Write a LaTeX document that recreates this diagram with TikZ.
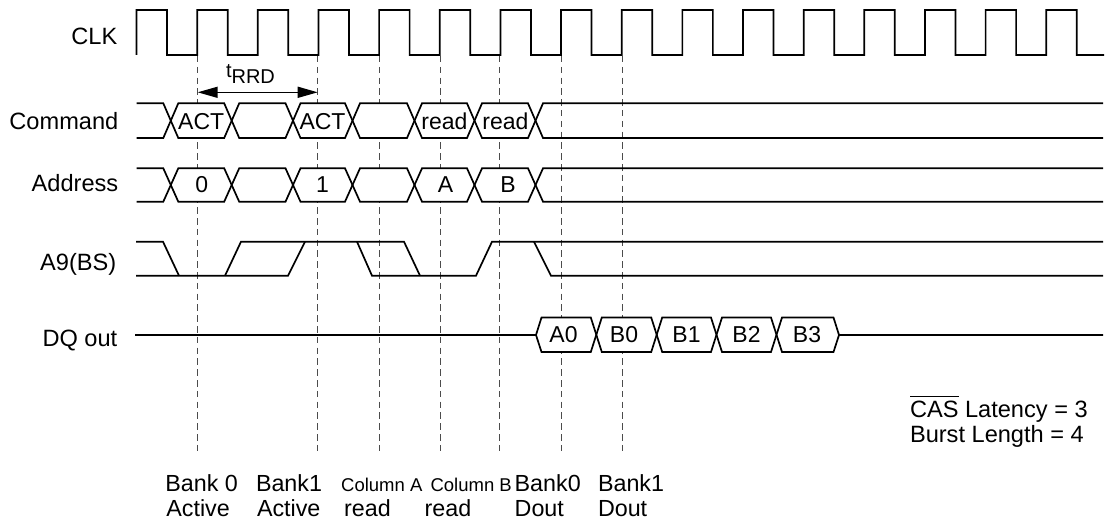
\documentclass[tikz,border=0pt]{standalone}
\usepackage{fontspec}
\setmainfont{Liberation Sans}
\usetikzlibrary{arrows.meta}
\newcommand\ovl[1]{\setbox0\hbox{#1}\rlap{\raisebox{20pt}{\rule{\wd0}{1.3pt}}}\box0\relax}
\newcommand\hexfill[5]{% left point, right point, top, bottom, half-width
  \fill[white] (#1,{(#3+#4)/2}) -- (#1+#5,#3) -- (#2-#5,#3) -- (#2,{(#3+#4)/2}) -- (#2-#5,#4) -- (#1+#5,#4) -- cycle;}
\newcommand\busrow[2]{%
\foreach \a/\b in {170.8/231.7,231.7/293,293/352.5,352.5/414.5,414.5/474.5,474.5/535.5} {\hexfill{\a}{\b}{#1}{#2}{7.5}}
\draw[sigline] (136.7,#1) -- (163.3,#1) -- (178.3,#2) -- (224.2,#2) -- (239.2,#1) -- (285.5,#1) -- (300.5,#2) -- (345,#2) -- (360,#1) -- (407,#1) -- (422,#2) -- (467,#2) -- (482,#1) -- (528,#1) -- (543,#2) -- (1103,#2);
\draw[sigline] (136.7,#2) -- (163.3,#2) -- (178.3,#1) -- (224.2,#1) -- (239.2,#2) -- (285.5,#2) -- (300.5,#1) -- (345,#1) -- (360,#2) -- (407,#2) -- (422,#1) -- (467,#1) -- (482,#2) -- (528,#2) -- (543,#1) -- (1103,#1);}
\begin{document}
\begin{tikzpicture}[x=1pt,y=-1pt,
  sigline/.style={line width=1.7pt, line join=miter},
  guideline/.style={line width=0.9pt, black!70, dash pattern=on 6.5pt off 4.3pt},
  rowlabel/.style={font=\fontsize{23.6}{28}\selectfont, anchor=base east, inner sep=0pt},
  buslabel/.style={font=\fontsize{23}{28}\selectfont, anchor=base, inner sep=0pt},
  notelabel/.style={font=\fontsize{23.3}{28}\selectfont, anchor=base west, inner sep=0pt},
  smalllabel/.style={font=\fontsize{18.5}{22}\selectfont, anchor=base west, inner sep=0pt},
  dimarrow/.style={line width=1.5pt, {Triangle[length=20pt,width=11pt]}-{Triangle[length=20pt,width=11pt]}}]
\useasboundingbox (0,0) rectangle (1113,524);

% row labels
\node[rowlabel] (clk)  at (117.5,44.3)  {CLK};
\node[rowlabel] (cmd)  at (118.5,129.3) {Command};
\node[rowlabel] (addr) at (118.5,191)   {Address};
\node[rowlabel] (a9)   at (116.5,270.7) {A9(BS)};
\node[rowlabel] (dq)   at (117.5,346)   {DQ out};

% guide lines
\foreach \n/\x in {1/197.7,2/317.7,3/379,4/440.3,5/499.7,6/561,7/622} {
  \coordinate (gt\n) at (\x,56);
  \coordinate (gb\n) at (\x,450.7);
  \draw[guideline] (gt\n) -- (gb\n);
}

% clock
\draw[sigline] (136.5,55) foreach \k in {0,...,14} {
   -- ({136.5+60.65*\k},10) -- ({167+60.65*\k},10) -- ({167+60.65*\k},55) -- ({136.5+60.65*(\k+1)},55) }
   -- (1046.25,10) -- (1076.75,10) -- (1076.75,55) -- (1104,55);

% tRRD
\coordinate (ra) at (197.7,92.3);
\coordinate (rb) at (317.7,92.3);
\draw[dimarrow] (ra) -- (rb);
\node[anchor=base west, inner sep=0pt, font=\fontsize{20}{20}\selectfont] (trrd) at (225.8,78) {t\raisebox{-6pt}{RRD}};

% command and address buses
\busrow{103.3}{138}
\busrow{168.3}{201.7}
\node[buslabel] (c1) at (201.2,129.3) {ACT};
\node[buslabel] (c2) at (322.5,129.3) {ACT};
\node[buslabel] (c3) at (444.4,129.3) {read};
\node[buslabel] (c4) at (505.5,129.3) {read};
\node[buslabel] (a1) at (201.8,192.7) {0};
\node[buslabel] (a2) at (322.5,192.7) {1};
\node[buslabel] (a3) at (445.5,192.7) {A};
\node[buslabel] (a4) at (508,192.7) {B};

% A9(BS)
\draw[sigline] (136,241.7) -- (163,241.7) -- (179,275.7);
\draw[sigline] (136,275.7) -- (288,275.7) -- (305,241.7);
\draw[sigline] (225,275.7) -- (241,241.7) -- (404,241.7) -- (420,275.7);
\draw[sigline] (357,241.7) -- (372,275.7) -- (476,275.7) -- (492,241.7) -- (1103,241.7);
\draw[sigline] (534,241.7) -- (551,275.7) -- (1103,275.7);

% DQ out
\foreach \a/\b in {536/596.3,596.3/656.7,656.7/716.5,716.5/776.5,776.5/839} {\hexfill{\a}{\b}{317.5}{352}{5.5}}
\draw[sigline] (135,335) -- (536,335) -- (541.5,317.5) -- (590.8,317.5) -- (601.8,352) -- (651.2,352) -- (662.2,317.5) -- (711,317.5) -- (722,352) -- (771,352) -- (782,317.5) -- (833.5,317.5) -- (839,335) -- (1103,335);
\draw[sigline] (536,335) -- (541.5,352) -- (590.8,352) -- (601.8,317.5) -- (651.2,317.5) -- (662.2,352) -- (711,352) -- (722,317.5) -- (771,317.5) -- (782,352) -- (833.5,352) -- (839,335);
\node[buslabel] (d1) at (563.5,342.5) {A0};
\node[buslabel] (d2) at (624,342.5) {B0};
\node[buslabel] (d3) at (686.5,342.5) {B1};
\node[buslabel] (d4) at (746.5,342.5) {B2};
\node[buslabel] (d5) at (807,342.5) {B3};

% notes
\node[notelabel, font=\fontsize{23.6}{28}\selectfont] (cas) at (909.8,417.3) {\ovl{CAS} Latency = 3};
\node[notelabel, font=\fontsize{23.6}{28}\selectfont] (bl) at (909.8,442.7) {Burst Length = 4};

% bottom labels
\node[notelabel] (l1a) at (165.2,491.7) {Bank 0};
\node[notelabel] (l1b) at (166.2,516) {Active};
\node[notelabel] (l2a) at (255.8,491.7) {Bank1};
\node[notelabel] (l2b) at (256.8,516) {Active};
\node[smalllabel] (l3a) at (341,491.7) {Column A};
\node[notelabel] (l3b) at (344,516) {read};
\node[smalllabel] (l4a) at (430.4,491.7) {Column B};
\node[notelabel] (l4b) at (424.5,516) {read};
\node[notelabel] (l5a) at (514.5,491.7) {Bank0};
\node[notelabel] (l5b) at (514.5,516) {Dout};
\node[notelabel] (l6a) at (597.8,491.7) {Bank1};
\node[notelabel] (l6b) at (597.8,516) {Dout};
\end{tikzpicture}
\end{document}
